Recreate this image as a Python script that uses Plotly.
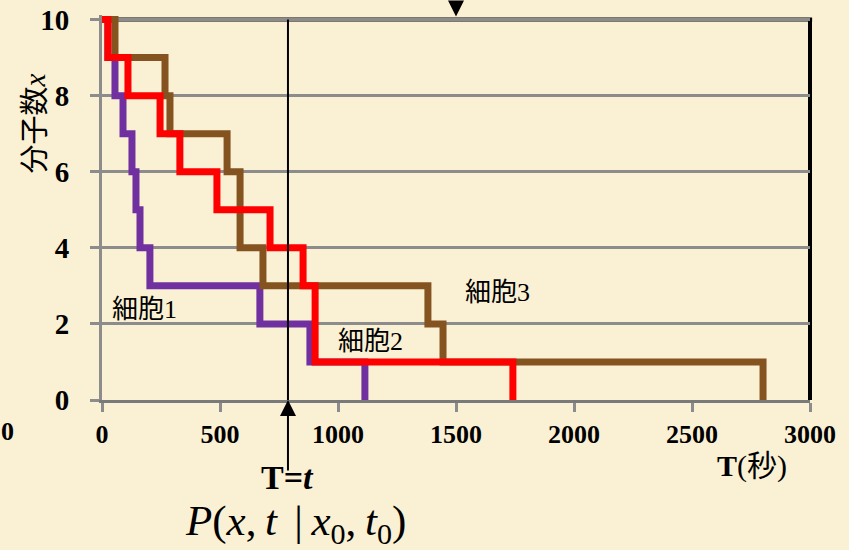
import plotly.graph_objects as go

# Molecule count x(T) for three cells: drop times (seconds) and counts
cell1_t = [0, 25, 55, 89, 127, 144, 161, 203, 669, 881, 1114]
cell1_x = [10, 9, 8, 7, 6, 5, 4, 3, 2, 1, 0]

cell2_t = [0, 25, 110, 246, 330, 487, 712, 852, 903, 903, 1741]
cell2_x = [10, 9, 8, 7, 6, 5, 4, 3, 2, 1, 0]

cell3_t = [0, 55, 267, 288, 530, 585, 585, 682, 1381, 1445, 2801]
cell3_x = [10, 9, 8, 7, 6, 5, 4, 3, 2, 1, 0]

x_ticks = [0, 500, 1000, 1500, 2000, 2500, 3000]
y_ticks = [0, 2, 4, 6, 8, 10]

t_obs = 788      # observation time T = t
t_mark = 1500    # marker on the top edge

Y_TOP = 10.12
BG = "#FAF0D4"
SERIF = "Liberation Serif, Times New Roman, serif"
CJK = "Liberation Serif, Noto Sans CJK JP, serif"

fig = go.Figure()

for t, x, color in [
    (cell1_t, cell1_x, "#7030A0"),
    (cell3_t, cell3_x, "#845320"),
    (cell2_t, cell2_x, "#FF0000"),
]:
    fig.add_trace(go.Scatter(
        x=t, y=x, mode="lines",
        line=dict(color=color, width=7, shape="hv"),
        showlegend=False, hoverinfo="skip",
    ))

# frame: black top and right borders
y10 = 10 / Y_TOP
fig.add_shape(type="line", xref="paper", yref="paper", x0=0, x1=1.003,
              y0=y10, y1=y10, line=dict(color="black", width=4), layer="between")
fig.add_shape(type="line", xref="paper", yref="paper", x0=1, x1=1,
              y0=0, y1=y10, line=dict(color="black", width=4), layer="between")

# observation time line
fig.add_shape(type="line", xref="x", yref="y", x0=t_obs, x1=t_obs,
              y0=0, y1=10, line=dict(color="black", width=2), layer="above")


def note(x, y, text, size, family=SERIF, ref="paper", **kw):
    return dict(x=x, y=y, xref=ref, yref=ref, text=text, showarrow=False,
                xanchor="center", yanchor="middle",
                font=dict(family=family, size=size, color="black"), **kw)


TS = "\u2009"  # thin space
formula = ("<i>P</i>(<i>x</i>," + TS + "<i>t</i>" + TS + TS + "|" + TS +
           "<i>x</i><sub>0</sub>," + TS + "<i>t</i><sub>0</sub>)")

annotations = [
    dict(x=t_obs, y=0, xref="x", yref="y", ax=0, ay=72, text="",
         showarrow=True, arrowhead=2, arrowsize=1.6, arrowwidth=2, arrowcolor="black"),
    dict(x=t_mark, y=10, xref="x", yref="y", ax=0, ay=-26, text="",
         showarrow=True, arrowhead=2, arrowsize=1.6, arrowwidth=2, arrowcolor="black",
         standoff=3),
    note(178, 2.37, "細胞1", 26, CJK, ref=None),
    note(1136, 1.53, "細胞2", 26, CJK, ref=None),
    note(1674, 2.82, "細胞3", 26, CJK, ref=None),
    note(0.2627, -0.2, "<b>T=<i>t</i></b>", 34),
    note(0.2726, -0.322, formula, 43),
    note(0.9181, -0.171, "<b>T</b>(秒)", 30, CJK),
    note(-0.134, -0.083, "<b>0</b>", 26),
    note(-0.0946, 0.718, "分子数<i>x</i>", 29, CJK, textangle=-90),
]
for a in annotations:
    if a.get("xref") is None:
        a["xref"], a["yref"] = "x", "y"

fig.update_layout(
    width=849, height=550,
    margin=dict(l=102, r=39, t=15, b=150),
    paper_bgcolor=BG, plot_bgcolor=BG,
    showlegend=False,
    annotations=annotations,
    xaxis=dict(
        range=[0, 3000], tickvals=x_ticks, ticktext=[str(v) for v in x_ticks],
        showgrid=False, zeroline=False, automargin=False,
        showline=True, linecolor="#7a7a7a", linewidth=3,
        ticks="outside", ticklen=9, tickwidth=3, tickcolor="#8c8c8c",
        tickfont=dict(family=SERIF, size=26, color="black", weight="bold"),
        fixedrange=True,
    ),
    yaxis=dict(
        range=[0, Y_TOP], tickvals=y_ticks, ticktext=[str(v) for v in y_ticks],
        showgrid=True, gridcolor="#8c8c8c", gridwidth=3, zeroline=False,
        automargin=False,
        showline=True, linecolor="#8c8c8c", linewidth=3,
        ticks="outside", ticklen=9, tickwidth=3, tickcolor="#8c8c8c",
        ticklabelstandoff=15,
        tickfont=dict(family=SERIF, size=29, color="black", weight="bold"),
        fixedrange=True,
    ),
)

fig.write_html("out.html")
